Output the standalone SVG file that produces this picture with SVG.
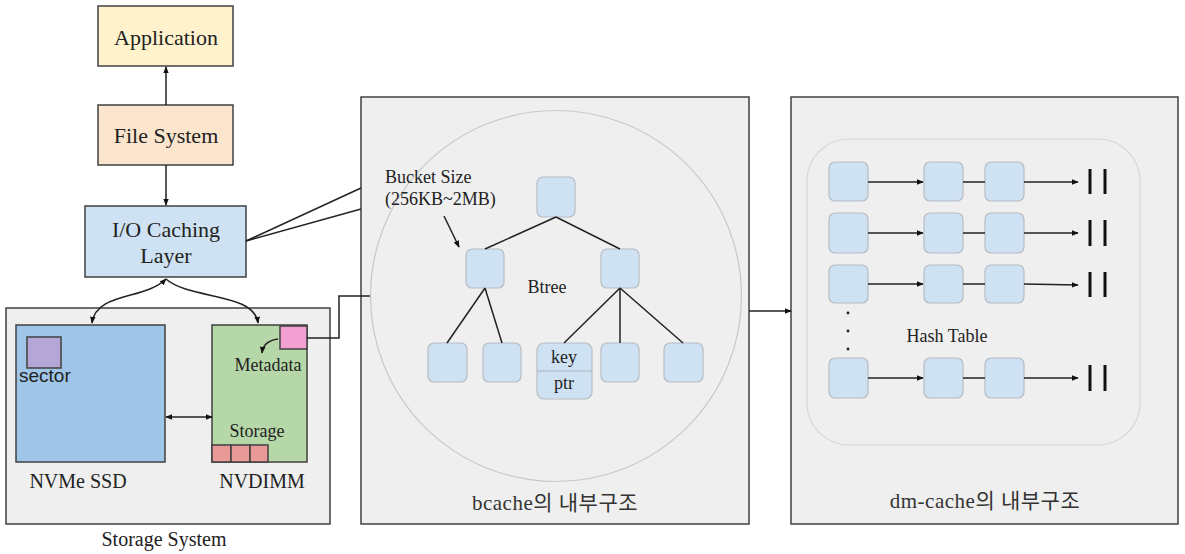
<svg xmlns="http://www.w3.org/2000/svg" width="1185" height="554" viewBox="0 0 1185 554">
<style>
.serif{font-family:"Liberation Serif","Times New Roman",serif;fill:#222;}
.kr{font-family:"Liberation Serif","Noto Sans CJK KR",serif;fill:#333;}
.box{stroke:#404040;stroke-width:1.5;}
.panel{fill:#efefef;stroke:#404040;stroke-width:1.5;}
.node{fill:#cfe2f3;stroke:#b7bcc2;stroke-width:1.2;}
.ln{stroke:#222;stroke-width:1.5;fill:none;}
.bar{stroke:#111;stroke-width:3;}
</style>
<defs>
<marker id="ah" viewBox="0 0 10 10" refX="9" refY="5" markerWidth="7" markerHeight="7" orient="auto-start-reverse" markerUnits="userSpaceOnUse">
<path d="M0,1 L10,5 L0,9 z" fill="#111"/>
</marker>
</defs>
<rect width="1185" height="554" fill="#ffffff"/>

<!-- panels -->
<g id="storage-system">
<rect class="panel" x="6" y="308" width="324" height="216"/>
<text class="serif" x="164" y="546" font-size="20" text-anchor="middle">Storage System</text>
</g>
<g id="bcache">
<rect class="panel" x="361" y="97" width="388" height="427"/>
<circle cx="556" cy="296" r="185.5" fill="#efefef" stroke="#c8c8c8" stroke-width="1.2"/>
<text class="kr" x="555" y="510" font-size="21" letter-spacing="0.5" text-anchor="middle">bcache의 내부구조</text>
</g>
<g id="dmcache">
<rect class="panel" x="791" y="97" width="387" height="427"/>
<rect x="807" y="139" width="333" height="306" rx="42" fill="#efefef" stroke="#d6d6d6" stroke-width="1.2"/>
<text class="kr" x="985" y="508" font-size="21" letter-spacing="0.5" text-anchor="middle">dm-cache의 내부구조</text>
</g>

<g id="application">
<rect class="box" x="98" y="6" width="135" height="60" fill="#fff2cc"/>
<text class="serif" x="166" y="45" font-size="22" text-anchor="middle">Application</text>
</g>
<g id="file-system">
<rect class="box" x="98" y="105" width="135" height="60" fill="#fce5cd"/>
<text class="serif" x="166" y="143" font-size="22" text-anchor="middle">File System</text>
</g>
<g id="io-caching-layer">
<rect class="box" x="85" y="206" width="161" height="71" fill="#cfe2f3"/>
<text class="serif" x="166" y="237" font-size="22" text-anchor="middle">I/O Caching</text>
<text class="serif" x="166" y="263" font-size="22" text-anchor="middle">Layer</text>
</g>

<g id="nvme-ssd">
<rect class="box" x="16" y="325" width="149" height="137" fill="#9fc5e8"/>
<rect class="box" x="27" y="337" width="34" height="31" fill="#b4a7d6"/>
<text x="19" y="382" font-size="19" font-family="Liberation Sans, Arial, sans-serif" fill="#222">sector</text>
<text class="serif" x="78" y="488" font-size="20" text-anchor="middle">NVMe SSD</text>
</g>
<g id="nvdimm">
<rect class="box" x="212" y="325" width="95" height="137" fill="#b6d7a8"/>
<rect class="box" x="280" y="326" width="27" height="23" fill="#f29fd2"/>
<rect class="box" x="212" y="445" width="19" height="17" fill="#ea9999"/>
<rect class="box" x="231" y="445" width="19" height="17" fill="#ea9999"/>
<rect class="box" x="250" y="445" width="18" height="17" fill="#ea9999"/>
<text class="serif" x="268" y="371" font-size="18" text-anchor="middle">Metadata</text>
<text class="serif" x="257" y="437" font-size="18" text-anchor="middle">Storage</text>
<text class="serif" x="262" y="488" font-size="20" text-anchor="middle">NVDIMM</text>
<path class="ln" d="M278,339 C270,340 263,344 262,353" marker-end="url(#ah)"/>
</g>

<!-- bcache tree -->
<g id="btree">
<text class="serif" x="385" y="183" font-size="18">Bucket Size</text>
<text class="serif" x="385" y="205" font-size="18">(256KB~2MB)</text>
<text class="serif" x="547" y="293" font-size="18" text-anchor="middle">Btree</text>
<rect class="node" x="537" y="177" width="38" height="40" rx="6"/>
<rect class="node" x="466" y="249" width="38" height="39" rx="6"/>
<rect class="node" x="601" y="249" width="38" height="39" rx="6"/>
<rect class="node" x="428" y="343" width="39" height="39" rx="6"/>
<rect class="node" x="483" y="343" width="38" height="39" rx="6"/>
<rect class="node" x="537" y="343" width="55" height="56" rx="7"/>
<line x1="537" y1="371" x2="592" y2="371" stroke="#a9b4bf" stroke-width="1.2"/>
<text class="serif" x="564" y="363" font-size="18" text-anchor="middle">key</text>
<text class="serif" x="564" y="389" font-size="18" text-anchor="middle">ptr</text>
<rect class="node" x="601" y="343" width="38" height="39" rx="6"/>
<rect class="node" x="664" y="343" width="39" height="39" rx="6"/>
</g>

<!-- hash table -->
<g id="hash-table">
<text class="serif" x="947" y="342" font-size="18" text-anchor="middle">Hash Table</text>
<rect class="node" x="829" y="162" width="39" height="39" rx="6"/>
<rect class="node" x="924" y="162" width="39" height="39" rx="6"/>
<rect class="node" x="985" y="162" width="39" height="39" rx="6"/>
<rect class="node" x="829" y="213" width="39" height="40" rx="6"/>
<rect class="node" x="924" y="213" width="39" height="40" rx="6"/>
<rect class="node" x="985" y="213" width="39" height="40" rx="6"/>
<rect class="node" x="829" y="265" width="39" height="38" rx="6"/>
<rect class="node" x="924" y="265" width="39" height="38" rx="6"/>
<rect class="node" x="985" y="265" width="39" height="38" rx="6"/>
<rect class="node" x="829" y="358" width="39" height="40" rx="6"/>
<rect class="node" x="924" y="358" width="39" height="40" rx="6"/>
<rect class="node" x="985" y="358" width="39" height="40" rx="6"/>
<circle cx="848" cy="313" r="1.4" fill="#222"/>
<circle cx="848" cy="331" r="1.4" fill="#222"/>
<circle cx="848" cy="349" r="1.4" fill="#222"/>
<line class="bar" x1="1090" y1="169" x2="1090" y2="194"/>
<line class="bar" x1="1105" y1="169" x2="1105" y2="194"/>
<line class="bar" x1="1090" y1="220" x2="1090" y2="246"/>
<line class="bar" x1="1105" y1="220" x2="1105" y2="246"/>
<line class="bar" x1="1090" y1="272" x2="1090" y2="297"/>
<line class="bar" x1="1105" y1="272" x2="1105" y2="297"/>
<line class="bar" x1="1090" y1="365" x2="1090" y2="391"/>
<line class="bar" x1="1105" y1="365" x2="1105" y2="391"/>
</g>

<g id="connectors">
<line class="ln" x1="166" y1="105" x2="166" y2="67" marker-end="url(#ah)"/>
<line class="ln" x1="166" y1="165" x2="166" y2="205" marker-end="url(#ah)"/>
<line class="ln" x1="246" y1="241" x2="361" y2="188"/>
<line class="ln" x1="246" y1="241" x2="361" y2="209"/>
<path class="ln" d="M166,279 C145,300 96,292 92,323" marker-start="url(#ah)" marker-end="url(#ah)"/>
<path class="ln" d="M166,279 C190,300 254,292 258,323" marker-end="url(#ah)"/>
<line class="ln" x1="166" y1="417" x2="212" y2="417" marker-start="url(#ah)" marker-end="url(#ah)"/>
<polyline class="ln" points="307,338 339,338 339,296 370,296"/>
<line class="ln" x1="444" y1="216" x2="459" y2="247" marker-end="url(#ah)"/>
<line class="ln" x1="556" y1="217" x2="485" y2="249"/>
<line class="ln" x1="556" y1="217" x2="620" y2="249"/>
<line class="ln" x1="485" y1="288" x2="447" y2="343"/>
<line class="ln" x1="485" y1="288" x2="502" y2="343"/>
<line class="ln" x1="620" y1="288" x2="564" y2="343"/>
<line class="ln" x1="620" y1="288" x2="620" y2="343"/>
<line class="ln" x1="620" y1="288" x2="683" y2="343"/>
<line class="ln" x1="749" y1="311" x2="791" y2="311" marker-end="url(#ah)"/>
<line class="ln" x1="868" y1="182" x2="923" y2="182" marker-end="url(#ah)"/>
<line class="ln" x1="963" y1="182" x2="985" y2="182"/>
<line class="ln" x1="1024" y1="182" x2="1078" y2="182" marker-end="url(#ah)"/>
<line class="ln" x1="868" y1="233" x2="923" y2="233" marker-end="url(#ah)"/>
<line class="ln" x1="963" y1="233" x2="985" y2="233"/>
<line class="ln" x1="1024" y1="233" x2="1078" y2="233" marker-end="url(#ah)"/>
<line class="ln" x1="868" y1="284" x2="923" y2="284" marker-end="url(#ah)"/>
<line class="ln" x1="963" y1="284" x2="985" y2="284"/>
<line class="ln" x1="1024" y1="284" x2="1078" y2="285" marker-end="url(#ah)"/>
<line class="ln" x1="868" y1="378" x2="923" y2="378" marker-end="url(#ah)"/>
<line class="ln" x1="963" y1="378" x2="985" y2="378"/>
<line class="ln" x1="1024" y1="378" x2="1078" y2="378" marker-end="url(#ah)"/>
</g>
</svg>
